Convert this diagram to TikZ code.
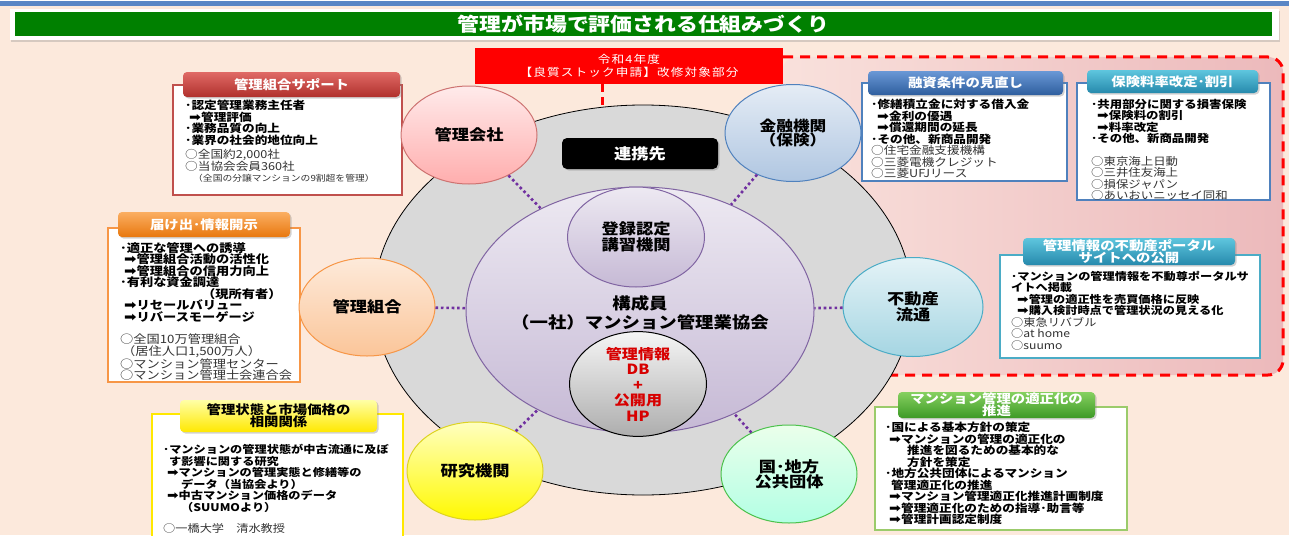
\documentclass[tikz,border=0pt]{standalone}
\usepackage{fontspec}
\setmainfont{Noto Sans CJK JP}[FakeStretch=1.15]
\newfontfamily\symf{DejaVu Sans}
\usetikzlibrary{shapes.geometric,shadows}
\newcommand\arr{\scalebox{1.3}[1.1]{\symf ➡}}
\definecolor{bgpeach}{HTML}{FCE9DC}
\definecolor{topblue}{HTML}{5A86C5}
\definecolor{titlegreen}{HTML}{008000}
\definecolor{pinkr}{HTML}{ECB9BB}
\definecolor{pinkl}{HTML}{F9E1DC}
\definecolor{reddash}{HTML}{FF0000}
\definecolor{dotc}{HTML}{7030A0}
\definecolor{graytxt}{HTML}{333333}
\definecolor{c1}{HTML}{C0504D}
\definecolor{c2}{HTML}{F79646}
\definecolor{c3}{HTML}{FFE800}
\definecolor{c4}{HTML}{4F81BD}
\definecolor{c6}{HTML}{4BACC6}
\definecolor{c7}{HTML}{9BCB6B}
\definecolor{purpb}{HTML}{8064A2}
\definecolor{h1t}{HTML}{E06A66}
\definecolor{h1b}{HTML}{B0302C}
\definecolor{h2t}{HTML}{FBAE62}
\definecolor{h2b}{HTML}{E8780E}
\definecolor{h4t}{HTML}{6A98D6}
\definecolor{h4b}{HTML}{2E5E9E}
\definecolor{h6t}{HTML}{5EC6DE}
\definecolor{h6b}{HTML}{2689AC}
\definecolor{h7t}{HTML}{86D060}
\definecolor{h7b}{HTML}{3D9A26}
\tikzset{
  bodybox/.style={draw, fill=white, line width=1.6pt, inner sep=0},
  hdr/.style={rounded corners=4pt, draw=none, drop shadow={opacity=0.35,shadow xshift=1.5pt,shadow yshift=-1.5pt},
    text=white, font=\bfseries\fontsize{12.5}{12.5}\selectfont, align=center, inner sep=0},
  circ/.style={ellipse, minimum width=136pt, minimum height=98pt, inner sep=0, line width=1pt,
    font=\bfseries\fontsize{15}{16}\selectfont, align=center},
  txt/.style={anchor=north west, align=left, inner sep=0, font=\fontsize{#1}{11.5}\selectfont},
  txt/.default=10.5,
  dotl/.style={draw=dotc, line width=2.6pt, dash pattern=on 2.6pt off 2.8pt},
  rdash/.style={draw=reddash, line width=3pt, dash pattern=on 10pt off 7pt},
}
\begin{document}
\begin{tikzpicture}[x=1pt,y=-1pt]
\useasboundingbox (0,0) rectangle (1289,535);
% background
\fill[bgpeach] (0,0) rectangle (1289,535);
\fill[white] (0,0) rectangle (1289,1.5);
\fill[topblue] (0,1.5) rectangle (1289,6.5);
% title
\node[fill=white, minimum width=1269pt, minimum height=31pt, inner sep=0,
  drop shadow={opacity=0.3,shadow xshift=1pt,shadow yshift=-1.5pt}] (frame) at (644.5,25) {};
\node[fill=titlegreen, minimum width=1257pt, minimum height=24pt, inner sep=0, text=white,
  font=\bfseries\fontsize{19}{19}\selectfont] (title) at (643.5,24.5) {管理が市場で評価される仕組みづくり};
% pink region
\shade[left color=pinkl, right color=pinkr, rounded corners=15pt]
  (782,57) -- (1283,57) -- (1283,375) -- (782,375) -- cycle;
% red box
\node[fill=reddash, minimum width=308pt, minimum height=36pt, inner sep=0, text=white, align=center,
  font=\addfontfeatures{LetterSpace=10}\fontsize{11}{13.5}\selectfont] (redbox) at (629,66)
  {令和4年度\\【良質ストック申請】改修対象部分};
\coordinate (r0) at (783,57);
\coordinate (r1) at (890,375);
\draw[rdash, rounded corners=15pt] (r0) -- (1283,57) -- (1283,375) -- (r1);
% gray circle
\node[ellipse, fill=black!15, draw=black, line width=0.8pt, minimum width=538pt, minimum height=390pt, inner sep=0] (gray) at (643,300) {};
\coordinate (d0) at (602,84);
\coordinate (d1) at (602,107);
\draw[rdash, dash pattern=on 8pt off 5pt] (d0) -- (d1);
% purple ellipse
\node[ellipse, top color=purpb!14, bottom color=purpb!45, draw=purpb, line width=1pt,
  minimum width=348pt, minimum height=246pt, inner sep=0] (kyokai) at (640,310) {};
\node[font=\bfseries\fontsize{16}{19}\selectfont, align=center] (kosei) at (640,312.5) {構成員\\（一社）マンション管理業協会};
\node[ellipse, top color=purpb!14, bottom color=purpb!45, draw=purpb, line width=1pt,
  minimum width=137pt, minimum height=100pt, inner sep=0, font=\bfseries\fontsize{15}{15.5}\selectfont, align=center]
  (touroku) at (636,237) {登録認定\\講習機関};
\node[ellipse, top color=black!4, bottom color=black!32, draw=black, line width=1pt,
  minimum width=137pt, minimum height=97pt, inner sep=0, text={rgb,255:red,215;green,0;blue,0},
  font=\bfseries\fontsize{14}{15.5}\selectfont, align=center]
  (kanri) at (638,384) {管理情報\\DB\\+\\公開用\\HP};
% 連携先
\node[fill=black, rounded corners=5pt, minimum width=156pt, minimum height=31pt, inner sep=0, text=white,
  font=\bfseries\fontsize{15}{15}\selectfont, drop shadow={opacity=0.35,shadow xshift=1.5pt,shadow yshift=-1.5pt}]
  (renkei) at (640,153.5) {連携先};
% ---------- boxes ----------
% box 1
\node[bodybox, draw=c1, minimum width=229pt, minimum height=110pt] (b1) at (287.5,140) {};
\node[hdr, top color=h1t, bottom color=h1b, minimum width=217pt, minimum height=25pt] (h1) at (291.5,84.5) {管理組合サポート};
\node[txt=11] (t1) at (185,100) {\textbf{･認定管理業務主任者}\\
\textbf{\hspace{4pt}\arr 管理評価}\\
\textbf{･業務品質の向上}\\
\textbf{･業界の社会的地位向上}\\[3pt]
{\color{graytxt}○全国約2,000社}\\
{\color{graytxt}○当協会会員360社}\\
{\color{graytxt}\fontsize{8.5}{10}\selectfont\hspace{8pt}（全国の分譲マンションの9割超を管理）}};
% box 2
\node[bodybox, draw=c2, minimum width=192pt, minimum height=154pt] (b2) at (204,305) {};
\node[hdr, top color=h2t, bottom color=h2b, minimum width=172pt, minimum height=25pt] (h2) at (204,224.5) {届け出･情報開示};
\node[txt=11.5] (t2) at (120,242) {\textbf{･適正な管理への誘導}\\
\textbf{\hspace{4pt}\arr 管理組合活動の活性化}\\
\textbf{\hspace{4pt}\arr 管理組合の信用力向上}\\
\textbf{･有利な資金調達}\\
\textbf{\hspace{82pt}（現所有者）}\\
\textbf{\hspace{4pt}\arr リセールバリュー}\\
\textbf{\hspace{4pt}\arr リバースモーゲージ}\\[11pt]
{\color{graytxt}○全国10万管理組合}\\
{\color{graytxt}\hspace{2pt}（居住人口1,500万人）}\\
{\color{graytxt}○マンション管理センター}\\
{\color{graytxt}○マンション管理士会連合会}};
% box 3
\node[bodybox, draw=c3, line width=2.5pt, minimum width=251pt, minimum height=130pt] (b3) at (277.5,479) {};
\node[hdr, top color=yellow!35, bottom color=c3, text=black, minimum width=197pt, minimum height=32pt,
  font=\bfseries\fontsize{12.5}{12}\selectfont] (h3) at (278.5,416) {管理状態と市場価格の\\相関関係};
\node[txt=10.6] (t3) at (163,444) {\textbf{･マンションの管理状態が中古流通に及ぼ}\\
\textbf{\hspace{6pt}す影響に関する研究}\\
\textbf{\hspace{4pt}\arr マンションの管理実態と修繕等の}\\
\textbf{\hspace{18pt}データ（当協会より）}\\
\textbf{\hspace{4pt}\arr 中古マンション価格のデータ}\\
\textbf{\hspace{18pt}（SUUMOより）}\\[10pt]
{\color{graytxt}○一橋大学　清水教授}};
% box 4
\node[bodybox, draw=c4, minimum width=205pt, minimum height=98pt] (b4) at (964.5,132) {};
\node[hdr, top color=h4t, bottom color=h4b, minimum width=195pt, minimum height=24pt] (h4) at (965.5,83) {融資条件の見直し};
\node[txt=11] (t4) at (871,99) {\textbf{･修繕積立金に対する借入金}\\
\textbf{\hspace{6pt}\arr 金利の優遇}\\
\textbf{\hspace{6pt}\arr 償還期間の延長}\\
\textbf{･その他、新商品開発}\\
{\color{graytxt}○住宅金融支援機構}\\
{\color{graytxt}○三菱電機クレジット}\\
{\color{graytxt}○三菱UFJリース}};
% box 5
\node[bodybox, draw=c4, minimum width=193pt, minimum height=117pt] (b5) at (1173.5,141.5) {};
\node[hdr, top color=h6t, bottom color=h6b, minimum width=171pt, minimum height=23pt] (h5) at (1172.5,81.5) {保険料率改定･割引};
\node[txt=10.8] (t5) at (1091,99) {\textbf{･共用部分に関する損害保険}\\
\textbf{\hspace{6pt}\arr 保険料の割引}\\
\textbf{\hspace{6pt}\arr 料率改定}\\
\textbf{･その他、新商品開発}\\[11pt]
{\color{graytxt}○東京海上日動}\\
{\color{graytxt}○三井住友海上}\\
{\color{graytxt}○損保ジャパン}\\
{\color{graytxt}○あいおいニッセイ同和}};
% box 6
\node[bodybox, draw=c6, minimum width=260pt, minimum height=103pt] (b6) at (1130,306.5) {};
\node[hdr, top color=h6t, bottom color=h6b, minimum width=212pt, minimum height=27pt,
  font=\bfseries\fontsize{12.5}{12}\selectfont] (h6) at (1129,251.5) {管理情報の不動産ポータル\\サイトへの公開};
\node[txt=10.6] (t6) at (1011,271) {\textbf{･マンションの管理情報を不動尊ポータルサ}\\
\textbf{イトへ掲載}\\
\textbf{\hspace{6pt}\arr 管理の適正性を売買価格に反映}\\
\textbf{\hspace{6pt}\arr 購入検討時点で管理状況の見える化}\\
{\color{graytxt}○東急リバブル}\\
{\color{graytxt}○at home}\\
{\color{graytxt}○suumo}};
% box 7
\node[bodybox, draw=c7, minimum width=252pt, minimum height=123pt] (b7) at (1001,468.5) {};
\node[hdr, top color=h7t, bottom color=h7b, minimum width=197pt, minimum height=26pt,
  font=\bfseries\fontsize{12.5}{12}\selectfont] (h7) at (996.5,405) {マンション管理の適正化の\\推進};
\node[txt=11] (t7) at (885,422) {\textbf{･国による基本方針の策定}\\
\textbf{\hspace{4pt}\arr マンションの管理の適正化の}\\
\textbf{\hspace{22pt}推進を図るための基本的な}\\
\textbf{\hspace{22pt}方針を策定}\\
\textbf{･地方公共団体によるマンション}\\
\textbf{\hspace{6pt}管理適正化の推進}\\
\textbf{\hspace{4pt}\arr マンション管理適正化推進計画制度}\\
\textbf{\hspace{4pt}\arr 管理適正化のための指導･助言等}\\
\textbf{\hspace{4pt}\arr 管理計画認定制度}};
% ---------- outer circles ----------
\node[circ, top color=red!8, bottom color=red!32, draw=c1!80] (kaisha) at (469,135) {管理会社};
\node[circ, minimum height=97pt, top color=c4!15, bottom color=c4!45, draw=c4, font=\bfseries\fontsize{14.5}{14}\selectfont] (kinyu) at (793,133) {金融機関\\（保険）};
\node[circ, top color=c2!20, bottom color=c2!55, draw=c2] (kumiai) at (367,307) {管理組合};
\node[circ, minimum width=140pt, minimum height=99pt, top color=c6!15, bottom color=c6!50, draw=c6] (fudosan) at (913,307) {不動産\\流通};
\node[circ, top color=yellow!25, bottom color=yellow!95!orange, draw=yellow!85!black] (kenkyu) at (475,471) {研究機関};
\node[circ, top color=green!8, bottom color=green!35!cyan!30, draw=green!65!black!70, font=\bfseries\fontsize{15}{15}\selectfont] (kuni) at (789,474) {国･地方\\公共団体};
% dotted connectors
\draw[dotl] (kaisha) -- (kyokai);
\draw[dotl] (kinyu) -- (kyokai);
\draw[dotl] (kumiai) -- (kyokai);
\draw[dotl] (fudosan) -- (kyokai);
\draw[dotl] (kenkyu) -- (kyokai);
\draw[dotl] (kuni) -- (kyokai);
\end{tikzpicture}
\end{document}
